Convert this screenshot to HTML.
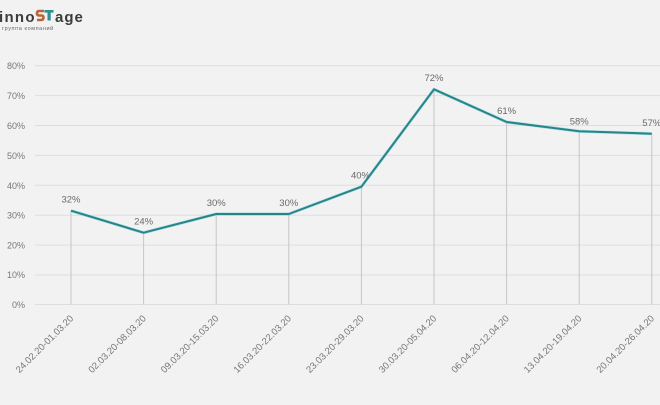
<!DOCTYPE html>
<html><head><meta charset="utf-8">
<style>
html,body{margin:0;padding:0;background:#f2f2f2;}
svg{display:block;}
text{font-family:"Liberation Sans","DejaVu Sans",sans-serif;}
</style></head>
<body>
<svg width="660" height="405" viewBox="0 0 660 405" xmlns="http://www.w3.org/2000/svg">
<rect width="660" height="405" fill="#f2f2f2"/>
<!-- logo -->
<text x="-1" y="22" font-size="15" font-weight="bold" fill="#3b3b3b" letter-spacing="1.3">inno</text>
<path d="M44 11 L39 11 Q37 11 37 13.5 Q37 15.5 39.5 15.5 L41.5 15.5 Q43.5 15.5 43.5 17.5 Q43.5 20 41 20 L37 20" fill="none" stroke="#b9643c" stroke-width="2.6"/>
<rect x="44.5" y="10" width="9" height="2.6" fill="#2f8f93"/>
<rect x="47.5" y="10" width="3.2" height="10.5" fill="#2f8f93"/>
<text x="55" y="22" font-size="15" font-weight="bold" fill="#3b3b3b" letter-spacing="1">age</text>
<text x="2" y="30" font-size="5.5" fill="#666" letter-spacing="0.6">группа компаний</text>

<!-- grid -->
<g stroke="#dedede" stroke-width="1">
<line x1="35" y1="65.7" x2="660" y2="65.7"/>
<line x1="35" y1="95.6" x2="660" y2="95.6"/>
<line x1="35" y1="125.5" x2="660" y2="125.5"/>
<line x1="35" y1="155.4" x2="660" y2="155.4"/>
<line x1="35" y1="185.3" x2="660" y2="185.3"/>
<line x1="35" y1="215.2" x2="660" y2="215.2"/>
<line x1="35" y1="245.1" x2="660" y2="245.1"/>
<line x1="35" y1="275" x2="660" y2="275"/>
<line x1="35" y1="304.5" x2="660" y2="304.5"/>
</g>
<g font-size="9" fill="#777" text-anchor="end">
<text x="25" y="69">80%</text>
<text x="25" y="99">70%</text>
<text x="25" y="129">60%</text>
<text x="25" y="159">50%</text>
<text x="25" y="189">40%</text>
<text x="25" y="218.5">30%</text>
<text x="25" y="248.5">20%</text>
<text x="25" y="278">10%</text>
<text x="25" y="308">0%</text>
</g>

<!-- drop lines -->
<g stroke="#c6c6c6" stroke-width="1">
<line x1="71" y1="210.7" x2="71" y2="304.5"/>
<line x1="143.6" y1="232.7" x2="143.6" y2="304.5"/>
<line x1="216.2" y1="214" x2="216.2" y2="304.5"/>
<line x1="288.8" y1="214" x2="288.8" y2="304.5"/>
<line x1="361.4" y1="186.7" x2="361.4" y2="304.5"/>
<line x1="434" y1="89.3" x2="434" y2="304.5"/>
<line x1="506.6" y1="122" x2="506.6" y2="304.5"/>
<line x1="579.2" y1="131.3" x2="579.2" y2="304.5"/>
<line x1="651.8" y1="133.7" x2="651.8" y2="304.5"/>
</g>

<!-- series -->
<polyline points="71,210.7 143.6,232.7 216.2,214 288.8,214 361.4,186.7 434,89.3 506.6,122 579.2,131.3 651.8,133.7" fill="none" stroke="#7fd6d8" stroke-width="3.2" stroke-linejoin="round" opacity="0.6"/>
<polyline points="71,210.7 143.6,232.7 216.2,214 288.8,214 361.4,186.7 434,89.3 506.6,122 579.2,131.3 651.8,133.7" fill="none" stroke="#2a8388" stroke-width="2" stroke-linejoin="round"/>

<!-- data labels -->
<g font-size="9.5" fill="#6a6a6a" text-anchor="middle">
<text x="71" y="202.5">32%</text>
<text x="143.6" y="224.5">24%</text>
<text x="216.2" y="206">30%</text>
<text x="288.8" y="206">30%</text>
<text x="360.5" y="178.5">40%</text>
<text x="434" y="81">72%</text>
<text x="506.6" y="114">61%</text>
<text x="579.2" y="124.5">58%</text>
<text x="651.8" y="126">57%</text>
</g>

<!-- x labels -->
<g font-size="9.5" fill="#777" text-anchor="end">
<text transform="translate(74,319) rotate(-45)">24.02.20-01.03.20</text>
<text transform="translate(146.6,319) rotate(-45)">02.03.20-08.03.20</text>
<text transform="translate(219.2,319) rotate(-45)">09.03.20-15.03.20</text>
<text transform="translate(291.8,319) rotate(-45)">16.03.20-22.03.20</text>
<text transform="translate(364.4,319) rotate(-45)">23.03.20-29.03.20</text>
<text transform="translate(437,319) rotate(-45)">30.03.20-05.04.20</text>
<text transform="translate(509.6,319) rotate(-45)">06.04.20-12.04.20</text>
<text transform="translate(582.2,319) rotate(-45)">13.04.20-19.04.20</text>
<text transform="translate(654.8,319) rotate(-45)">20.04.20-26.04.20</text>
</g>
</svg>
</body></html>
